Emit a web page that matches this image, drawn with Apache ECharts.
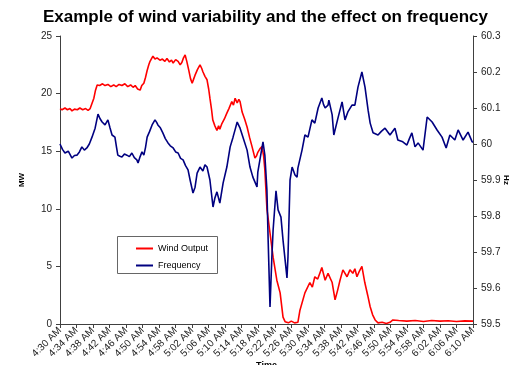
<!DOCTYPE html>
<html>
<head>
<meta charset="utf-8">
<script src="https://cdn.jsdelivr.net/npm/echarts@6/dist/echarts.min.js"></script>
<style>html,body{margin:0;padding:0;background:#fff}#c{width:519px;height:365px}</style>
</head>
<body>
<div id="c"></div>
<script>
// minutes after 4:30 AM
var windTime = [0,0.5,1.2,1.8,2.4,2.9,3.5,4.2,4.8,5.5,6.2,6.8,7.3,7.75,8.2,8.6,9.0,9.6,10.3,10.9,11.6,12.3,13.0,13.6,14.3,15.0,15.7,16.4,17.1,17.7,18.2,18.8,19.4,19.8,20.3,20.7,21.1,21.5,21.8,22.2,22.5,23.0,23.5,24.2,24.8,25.4,25.9,26.5,27.0,27.4,28.0,28.6,29.1,29.5,29.9,30.3,30.7,31.2,31.6,32.0,32.4,32.7,33.3,33.9,34.3,34.6,35.1,35.6,36.0,36.3,36.7,37.0,37.5,38.0,38.4,38.7,39.2,39.8,40.4,40.9,41.6,42.0,42.4,42.9,43.3,43.6,44.1,44.7,45.3,45.9,46.5,47.2,47.6,47.9,48.4,48.9,49.3,49.6,50.1,50.85,51.6,52.5,53.3,54.0,54.5,55.3,56.0,56.8,57.6,58.1,59.3,60.5,61.1,61.7,62.4,63.0,63.4,64.2,64.9,65.9,66.6,67.2,67.8,68.5,69.5,70.2,70.9,71.4,71.9,72.5,73.1,73.8,74.5,75.1,75.7,76.3,77.0,78.0,79.0,79.9,80.6,82,84,86,88,90,92,94,96,98,100];
var windMW = [18.7,18.6,18.75,18.6,18.7,18.5,18.65,18.6,18.75,18.6,18.7,18.55,18.7,18.75,19.6,20.3,20.75,20.7,20.85,20.7,20.8,20.6,20.75,20.6,20.8,20.7,20.85,20.6,20.75,20.55,20.7,20.4,20.3,20.7,20.9,21.4,22.0,22.5,22.8,22.9,23.25,23.0,23.1,22.9,23.0,22.8,23.05,22.75,22.9,22.65,22.95,22.8,22.5,22.7,23.1,23.35,22.8,22.0,21.3,20.9,21.3,21.6,22.1,22.5,22.2,21.9,21.5,21.2,20.4,19.6,18.6,17.7,17.2,16.8,17.2,16.9,17.4,17.8,18.3,18.7,19.3,19.0,19.6,19.2,19.5,19.3,18.4,17.8,17.1,16.2,15.4,14.4,14.6,14.9,15.2,15.4,14.6,13.4,10.0,7.9,5.8,3.8,2.7,0.6,0.2,0.1,0.25,0.1,0.15,1.2,2.7,3.6,3.2,4.1,3.9,4.5,4.9,3.8,4.4,3.6,2.1,2.9,3.8,4.7,4.1,4.7,4.4,4.8,4.1,4.6,5.0,3.6,2.5,1.5,0.8,0.35,0.1,0.15,0.05,0.15,0.35,0.3,0.25,0.3,0.22,0.3,0.25,0.28,0.22,0.27,0.25];
var freqTime = [0,0.6,1.2,2.0,2.9,3.5,4.1,4.7,5.3,5.9,6.5,7.1,7.75,8.5,9.2,9.7,10.2,10.9,11.3,11.6,12.1,12.6,13.3,13.7,14.0,14.5,15.0,15.6,16.2,16.8,17.4,18.0,18.6,18.9,19.4,19.85,20.3,20.7,21.1,21.7,22.3,23.0,23.4,23.7,24.3,24.9,25.5,26.15,26.7,27.4,28.0,28.6,29.2,29.8,30.4,31.0,31.5,32.2,32.7,33.2,33.9,34.6,35.1,35.6,36.3,37.05,37.5,38.0,38.7,39.5,40.4,41.2,41.9,42.4,42.9,43.6,44.3,45.3,46.0,46.7,47.7,47.9,48.4,49.15,49.6,50.1,50.4,50.85,51.3,51.6,52.3,52.8,53.5,54.0,54.96,55.2,55.7,56.2,56.9,57.4,57.6,58.6,59.3,60.05,61.0,61.7,62.5,63.4,63.8,64.2,64.9,65.1,65.9,66.3,67.3,68.3,69.0,69.7,70.7,71.4,72.15,73.1,73.85,74.6,75.1,75.8,77.0,77.8,78.7,79.9,81.1,81.8,83.0,84.0,84.6,85.2,85.96,86.7,87.9,88.9,90.1,91.3,92.5,93.5,94.4,95.6,96.4,97.6,98.8,99.8,100];
var freqHz = [60.000,59.985,59.975,59.980,59.961,59.968,59.969,59.978,59.992,59.983,59.989,60.000,60.019,60.044,60.083,60.070,60.061,60.053,60.058,60.067,60.045,60.025,60.019,59.990,59.969,59.966,59.964,59.972,59.969,59.965,59.975,59.962,59.956,59.947,59.965,59.978,59.969,59.990,60.019,60.035,60.053,60.067,60.060,60.053,60.045,60.031,60.015,60.003,59.995,59.989,59.978,59.975,59.960,59.956,59.940,59.928,59.900,59.864,59.880,59.919,59.936,59.925,59.942,59.936,59.900,59.825,59.850,59.867,59.836,59.892,59.936,59.992,60.019,60.040,60.061,60.044,60.019,59.983,59.936,59.908,59.881,59.922,59.956,60.006,59.969,59.872,59.733,59.547,59.686,59.761,59.870,59.817,59.797,59.733,59.628,59.686,59.900,59.936,59.914,59.908,59.933,59.983,60.025,60.019,60.067,60.058,60.100,60.128,60.110,60.100,60.108,60.122,60.081,60.025,60.072,60.117,60.067,60.089,60.108,60.108,60.158,60.200,60.158,60.094,60.058,60.031,60.025,60.035,60.044,60.025,60.044,60.011,60.006,59.997,60.015,60.031,59.992,60.003,59.983,60.075,60.061,60.039,60.019,59.989,60.025,60.011,60.039,60.011,60.033,60.006,60.005];

var seriesNames = ['Wind Output', 'Frequency'];
var titleText = 'Example of wind variability and the effect on frequency';

function timeLabel(v) {
  var total = 4 * 60 + 30 + Math.round(v);
  var h = Math.floor(total / 60), m = total % 60;
  return h + ':' + (m < 10 ? '0' : '') + m + ' AM';
}
function zip(a, b) { return a.map(function (t, i) { return [t, b[i]]; }); }

var FONT = '"Liberation Sans", Arial, sans-serif';
var AX = '#404040';

var chart = echarts.init(document.getElementById('c'), null, { renderer: 'canvas' });
chart.setOption({
  backgroundColor: '#ffffff',
  animation: false,
  title: {
    text: titleText, left: 43, top: 9, padding: 0,
    textStyle: { fontFamily: FONT, fontSize: 17, fontWeight: 'bold', color: '#000' }
  },
  legend: {
    data: seriesNames, orient: 'vertical', left: 131, top: 239,
    icon: 'rect', itemWidth: 17, itemHeight: 2, itemGap: 8,
    textStyle: { fontFamily: FONT, fontSize: 9, color: '#000' }
  },
  graphic: [{
    type: 'rect', left: 117, top: 236, z: -1,
    shape: { width: 100, height: 37 },
    style: { fill: '#fff', stroke: '#666', lineWidth: 1 }
  }],
  grid: { left: 60, right: 46, top: 36, bottom: 41, containLabel: false, outerBoundsMode: 'none' },
  xAxis: {
    type: 'value', min: 0, max: 100, interval: 4,
    name: 'Time', nameLocation: 'middle', nameGap: 37, nameMoveOverlap: false,
    nameTextStyle: { fontFamily: FONT, fontSize: 9, fontWeight: 'bold', color: '#000' },
    axisLine: { lineStyle: { color: AX } },
    axisTick: { length: 4, lineStyle: { color: AX } },
    splitLine: { show: false },
    axisLabel: { formatter: timeLabel, rotate: 45, margin: 5, fontFamily: FONT, fontSize: 10, color: '#222' }
  },
  yAxis: [{
    type: 'value', min: 0, max: 25, interval: 5, position: 'left',
    name: 'MW', nameLocation: 'middle', nameGap: 34, nameMoveOverlap: false,
    nameTextStyle: { fontFamily: FONT, fontSize: 8, fontWeight: 'bold', color: '#000' },
    axisLine: { show: true, lineStyle: { color: AX } },
    axisTick: { show: true, length: 4, lineStyle: { color: AX } },
    splitLine: { show: false },
    axisLabel: { margin: 8, fontFamily: FONT, fontSize: 10, color: '#222' }
  }, {
    type: 'value', min: 59.5, max: 60.3, interval: 0.1, position: 'right',
    name: 'Hz', nameLocation: 'middle', nameGap: 29, nameRotate: -90, nameMoveOverlap: false,
    nameTextStyle: { fontFamily: FONT, fontSize: 8, fontWeight: 'bold', color: '#000' },
    axisLine: { show: true, lineStyle: { color: AX } },
    axisTick: { show: true, length: 4, lineStyle: { color: AX } },
    splitLine: { show: false },
    axisLabel: { margin: 8, fontFamily: FONT, fontSize: 10, color: '#222',
      formatter: function (v) { return String(Math.round(v * 10) / 10); } }
  }],
  series: [{
    name: seriesNames[0], type: 'line', yAxisIndex: 0,
    data: zip(windTime, windMW), showSymbol: false, symbol: 'none',
    lineStyle: { color: '#ff0000', width: 1.6 }, itemStyle: { color: '#ff0000' }
  }, {
    name: seriesNames[1], type: 'line', yAxisIndex: 1,
    data: zip(freqTime, freqHz), showSymbol: false, symbol: 'none',
    lineStyle: { color: '#000080', width: 1.6 }, itemStyle: { color: '#000080' }
  }]
});
</script>
</body>
</html>
